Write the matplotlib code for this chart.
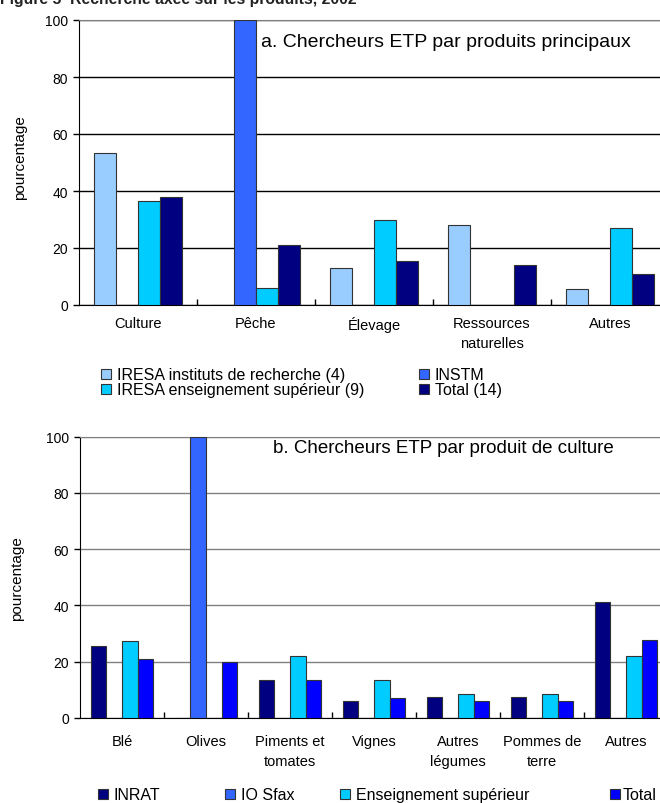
import numpy as np
import matplotlib.pyplot as plt
from matplotlib.patches import Patch

plt.rcParams['font.family'] = ['Liberation Sans', 'DejaVu Sans']

# Graphique a : produits principaux
cat_a    = ['Culture', 'Pêche', 'Élevage', 'Ressources\nnaturelles', 'Autres']
iresa_ri = [53.5, 0, 13, 28, 5.5]
instm    = [0, 100, 0, 0, 0]
iresa_es = [36.5, 6, 30, 0, 27]
total_a  = [38, 21, 15.5, 14, 11]

# Graphique b : produits de culture
cat_b    = ['Blé', 'Olives', 'Piments et\ntomates', 'Vignes', 'Autres\nlégumes', 'Pommes de\nterre', 'Autres']
inrat    = [25.5, 0, 13.5, 6, 7.3, 7.3, 41]
io_sfax  = [0, 100, 0, 0, 0, 0, 0]
ens_sup  = [27.2, 0, 22, 13.3, 8.3, 8.3, 22]
total_b  = [21, 20, 13.3, 7, 6, 6, 27.5]

yticks = [0, 20, 40, 60, 80, 100]

W, H = 660, 804
fig = plt.figure(figsize=(W/100, H/100), dpi=100)

fig.text(0.0, 1 - 4/H, 'Figure 5  Recherche axée sur les produits, 2002',
         fontsize=11.3, fontweight='bold', va='baseline', color='#222222')


def barres(ax, cats, series, couleurs, grille, decal):
    x = np.arange(len(cats))
    w = 0.186
    for k, (vals, c) in enumerate(zip(series, couleurs)):
        ax.bar(x + (k - 1.5) * w, vals, w, color=c, edgecolor='#333333',
               linewidth=0.8, zorder=3)
    ax.set_xlim(-0.5, len(cats) - 0.5)
    ax.set_ylim(0, 100)
    ax.set_yticks(yticks)
    ax.yaxis.grid(True, color=grille, linewidth=1.0, zorder=0)
    ax.set_xticks(np.arange(len(cats) - 1) + 0.5)
    ax.set_xticklabels([])
    ax.tick_params(axis='x', direction='in', length=4, width=1)
    ax.tick_params(axis='y', direction='out', length=4, width=1, labelsize=10, pad=4)
    for i, c in enumerate(cats):
        ax.text(i, decal, c, ha='center', va='top', fontsize=10.5,
                linespacing=1.55, transform=ax.transData)
    ax.spines['right'].set_visible(False)
    ax.spines['top'].set_color('#808080')
    ax.spines['left'].set_color('black')
    ax.spines['bottom'].set_color('black')
    ax.set_ylabel('pourcentage', fontsize=11)


def entree(x, y, couleur, nom, pad=0.35, taille=11.5):
    # une entree de legende placee a la main (x, y en pixels depuis le haut)
    fig.legend([Patch(facecolor=couleur, edgecolor='#333333', linewidth=0.8)], [nom],
               loc='center left', bbox_to_anchor=(x/W, 1 - y/H), frameon=False,
               fontsize=taille, handlelength=0.65, handleheight=0.65,
               handletextpad=pad, borderpad=0, borderaxespad=0)


couleurs_a = ['#99CCFF', '#3366FF', '#00CCFF', '#000080']
ax1 = fig.add_axes([79/W, 1 - 306/H, 590/W, 285/H])
barres(ax1, cat_a, [iresa_ri, instm, iresa_es, total_a], couleurs_a, 'black', -4)
ax1.yaxis.set_label_coords((27 - 79)/590, 0.52)
ax1.text(0.308, 0.926, 'a. Chercheurs ETP par produits principaux', fontsize=14,
         transform=ax1.transAxes, va='center', zorder=5)

entree(101, 376, couleurs_a[0], 'IRESA instituts de recherche (4)')
entree(419, 376, couleurs_a[1], 'INSTM')
entree(101, 391, couleurs_a[2], 'IRESA enseignement supérieur (9)')
entree(419, 391, couleurs_a[3], 'Total (14)')

couleurs_b = ['#000080', '#3366FF', '#00CCFF', '#0000FF']
ax2 = fig.add_axes([80/W, 1 - 718.7/H, 588/W, 281/H])
barres(ax2, cat_b, [inrat, io_sfax, ens_sup, total_b], couleurs_b, '#808080', -5.8)
ax2.yaxis.set_label_coords((24 - 80)/588, 0.5)
ax2.text(0.328, 0.96, 'b. Chercheurs ETP par produit de culture', fontsize=13.5,
         transform=ax2.transAxes, va='center', zorder=5)

for x, c, nom in zip([98, 225, 340], couleurs_b,
                     ['INRAT', 'IO Sfax', 'Enseignement supérieur']):
    entree(x, 796, c, nom)
entree(610, 796, couleurs_b[3], 'Total', pad=0.15)

fig.savefig('out.png', dpi=100)
